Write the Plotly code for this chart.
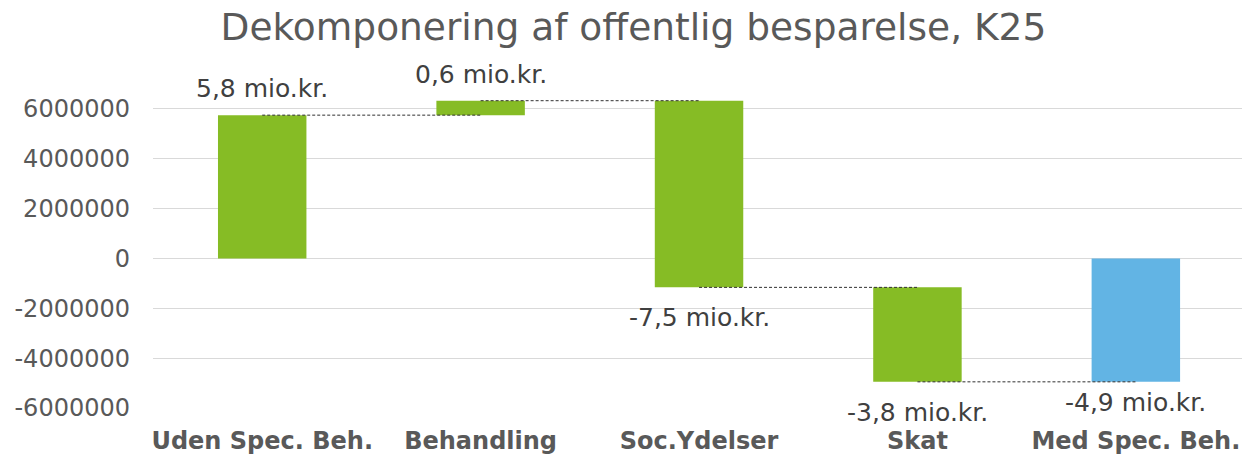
import numpy as np
import plotly.graph_objects as go

categories = ["Uden Spec. Beh.", "Behandling", "Soc.Ydelser", "Skat", "Med Spec. Beh."]
step_values = [5750000, 580000, -7490000, -3790000]
value_labels = ["5,8 mio.kr.", "0,6 mio.kr.", "-7,5 mio.kr.", "-3,8 mio.kr.", "-4,9 mio.kr."]
y_ticks = [-6000000, -4000000, -2000000, 0, 2000000, 4000000, 6000000]

GREEN = "#86BC25"
BLUE = "#62B4E4"
TEXT = "#404040"
AXIS_TEXT = "#595959"
FONT = "DejaVu Sans"

steps = np.array(step_values, dtype=float)
ends = np.cumsum(steps)
starts = np.concatenate([[0.0], ends[:-1]])
total = ends[-1]

bases = list(starts) + [0.0]
heights = list(steps) + [total]
colors = [GREEN] * len(steps) + [BLUE]
xpos = list(range(len(categories)))

fig = go.Figure()
fig.add_trace(go.Bar(
    x=xpos, y=heights, base=bases, width=0.405,
    marker=dict(color=colors, line=dict(width=0)),
    showlegend=False, hoverinfo="skip",
))

# connector lines, centre to centre
lx, ly = [], []
for i, lv in enumerate(ends):
    lx += [i, i + 1, None]
    ly += [lv, lv, None]
fig.add_trace(go.Scatter(
    x=lx, y=ly, mode="lines",
    line=dict(color="#303030", width=1, dash="3px,2px"),
    showlegend=False, hoverinfo="skip",
))

for i in xpos:
    b = bases[i]
    h = heights[i]
    if h >= 0:
        fig.add_annotation(x=i, y=b + h, text=value_labels[i], showarrow=False,
                           yanchor="bottom", yshift=10,
                           font=dict(family=FONT, size=25, color=TEXT))
    else:
        shift = -4 if i == len(categories) - 1 else -14
        fig.add_annotation(x=i, y=b + h, text=value_labels[i], showarrow=False,
                           yanchor="top", yshift=shift,
                           font=dict(family=FONT, size=25, color=TEXT))

fig.update_layout(
    width=1242, height=454,
    margin=dict(l=153, r=0, t=84, b=46),
    paper_bgcolor="white", plot_bgcolor="white",
    title=dict(text="Dekomponering af offentlig besparelse, K25",
               x=0.51, xanchor="center", y=0.94, yanchor="middle",
               font=dict(family=FONT, size=37.5, color=AXIS_TEXT)),
    font=dict(family=FONT),
)
fig.update_xaxes(
    range=[-0.5, 4.486], tickvals=xpos, ticktext=[f"<b>{c}</b>" for c in categories],
    showgrid=False, zeroline=False, showline=False, ticks="",
    tickfont=dict(family=FONT, size=24, color=AXIS_TEXT),
    ticklabelstandoff=16,
)
fig.update_yaxes(
    range=[-6000000, 7000000], tickvals=y_ticks, ticktext=[str(v) for v in y_ticks],
    showgrid=True, gridcolor="#D9D9D9", gridwidth=1,
    zeroline=True, zerolinecolor="#D9D9D9", zerolinewidth=1,
    showline=False, ticks="",
    tickfont=dict(family=FONT, size=24, color=AXIS_TEXT),
    ticklabelstandoff=22,
)

fig.write_html("out.html", config={"displayModeBar": False},
               post_script="document.body.style.margin='0';document.body.style.overflow='hidden';")
